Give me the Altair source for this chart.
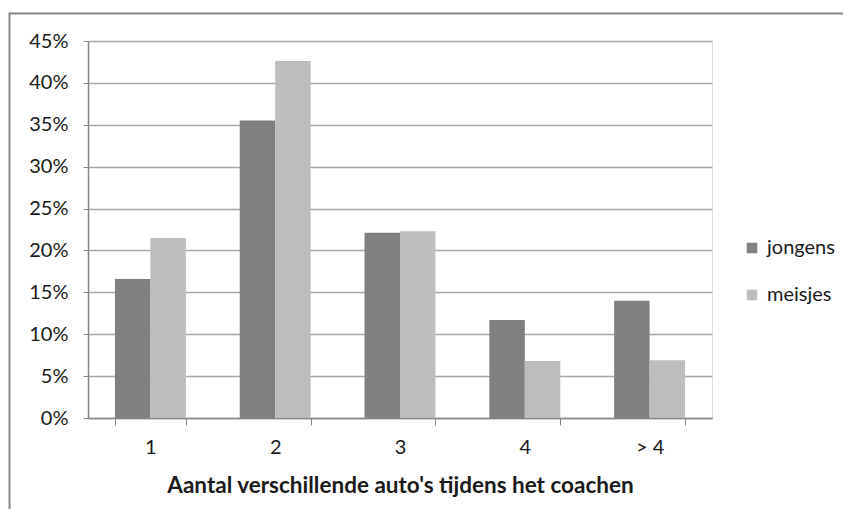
import altair as alt
import pandas as pd

categories = ["1", "2", "3", "4", "> 4"]
jongens = [0.166, 0.355, 0.221, 0.117, 0.140]
meisjes = [0.215, 0.426, 0.223, 0.068, 0.069]
series = ["jongens", "meisjes"]

rows = []
for c, j, m in zip(categories, jongens, meisjes):
    rows.append({"cat": c, "groep": "jongens", "waarde": j})
    rows.append({"cat": c, "groep": "meisjes", "waarde": m})
df = pd.DataFrame(rows)

FONT = "Lato"
GRAY = "#868686"
TXT = "#1a1a1a"

bars = alt.Chart(df).mark_bar(size=35.5).encode(
    x=alt.X("cat:N", sort=categories,
            scale=alt.Scale(paddingInner=0.432, paddingOuter=0.216),
            axis=alt.Axis(title="Aantal verschillende auto's tijdens het coachen",
                          labelAngle=0, tickBand="extent", tickSize=7,
                          tickColor=GRAY, domainColor=GRAY, domainWidth=1.5,
                          labelFontSize=20, labelColor=TXT, labelPadding=12,
                          titleFontSize=22.5, titleFontWeight="bold", titleColor=TXT,
                          titlePadding=17, labelFont=FONT, titleFont=FONT)),
    xOffset=alt.XOffset("groep:N", sort=series),
    y=alt.Y("waarde:Q", scale=alt.Scale(domain=[0, 0.45]),
            axis=alt.Axis(title=None, format=".0%", values=[i * 0.05 for i in range(10)],
                          tickSize=5, tickColor=GRAY, domainColor=GRAY, domainWidth=1.5,
                          gridColor="#a6a6a6", gridWidth=1.5,
                          labelFontSize=20, labelColor=TXT, labelPadding=15,
                          labelFont=FONT)),
    color=alt.Color("groep:N", sort=series,
                    scale=alt.Scale(domain=series, range=["#808080", "#bdbdbd"]),
                    legend=alt.Legend(title=None, orient="none", legendX=654, legendY=197,
                                      symbolType="square", symbolSize=110,
                                      symbolStrokeWidth=0, labelFontSize=20,
                                      labelFont=FONT, labelColor=TXT,
                                      rowPadding=27, labelOffset=5)),
)

line_df = pd.DataFrame({"a": [0]})
top_border = alt.Chart(line_df).mark_rule(color=GRAY, strokeWidth=2).encode(
    x=alt.value(-78.5), x2=alt.value(780), y=alt.value(-27.5)
)
left_border = alt.Chart(line_df).mark_rule(color=GRAY, strokeWidth=2).encode(
    x=alt.value(-78.5), y=alt.value(-28.5), y2=alt.value(520)
)

chart = alt.layer(top_border, left_border, bars).properties(
    width=624, height=377,
    autosize=alt.AutoSizeParams(type="none"),
    padding={"left": 80, "top": 33, "right": 131, "bottom": 91},
).configure_view(stroke=None).configure(font=FONT)

chart.save("out.html", embed_options={"renderer": "svg", "actions": False})
